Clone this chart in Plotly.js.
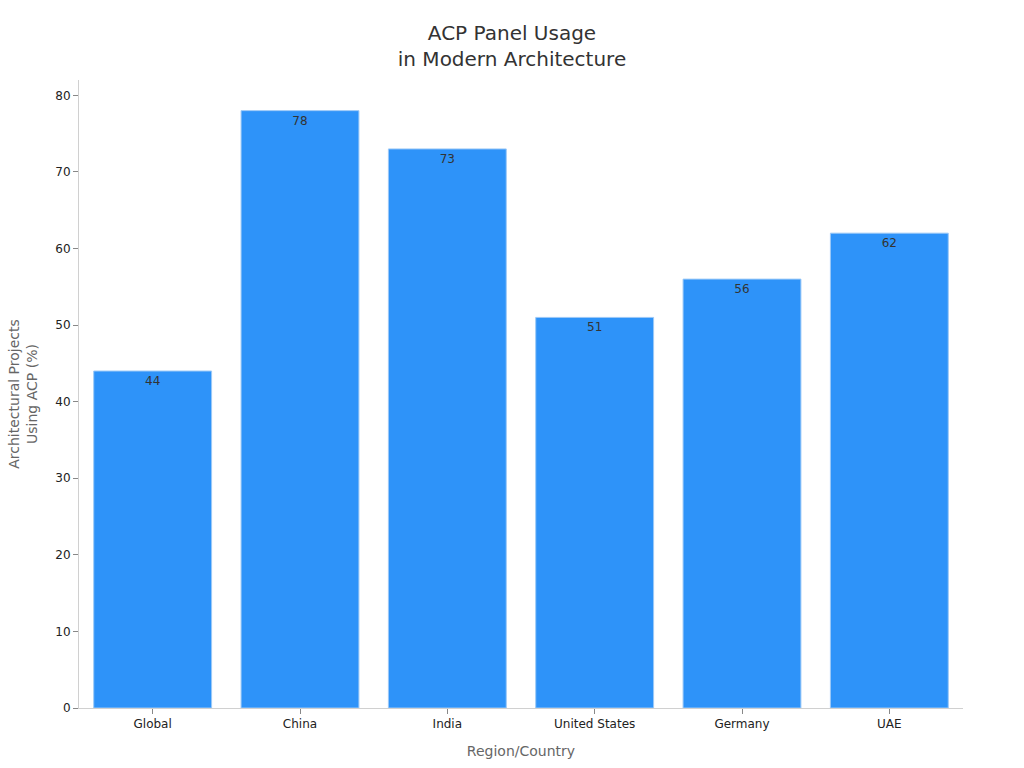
<!DOCTYPE html>
<html>
<head>
<meta charset="utf-8">
<script src="https://cdn.plot.ly/plotly-3.0.1.min.js"></script>
<style>html,body{margin:0;padding:0;background:#fff;}#chart{width:1024px;height:768px;}</style>
</head>
<body>
<div id="chart"></div>
<script>
const categories = ["Global", "China", "India", "United States", "Germany", "UAE"];
const usagePercent = [44, 78, 73, 51, 56, 62];
const yTickValues = [0, 10, 20, 30, 40, 50, 60, 70, 80];

const trace = {
  type: "bar",
  x: categories,
  y: usagePercent,
  text: usagePercent.map(String),
  textposition: "inside",
  insidetextanchor: "end",
  textfont: {family: "DejaVu Sans", size: 12, color: "#333333"},
  marker: {color: "#2E93F9", line: {color: "#9cc9f7", width: 1}},
  hoverinfo: "x+y"
};

const layout = {
  width: 1024, height: 768,
  margin: {l: 79, r: 61, t: 80, b: 60},
  paper_bgcolor: "#ffffff",
  plot_bgcolor: "#ffffff",
  font: {family: "DejaVu Sans", color: "#333333", size: 12},
  title: {text: "ACP Panel Usage<br>in Modern Architecture", x: 0.5, xanchor: "center", y: 0.9485, yanchor: "middle", font: {size: 20, color: "#333333"}},
  bargap: 0.2,
  showlegend: false,
  xaxis: {
    title: {text: "Region/Country", font: {size: 14, color: "#666666"}, standoff: 15},
    showline: true, linecolor: "#d0d0d0", linewidth: 1,
    ticks: "outside", ticklen: 5, tickcolor: "#888888",
    tickfont: {size: 12, color: "#222222"},
    showgrid: false, zeroline: false
  },
  yaxis: {
    title: {text: "Architectural Projects<br>Using ACP (%)", font: {size: 14, color: "#666666"}, standoff: 14},
    automargin: true,
    range: [0, 82],
    tickvals: yTickValues,
    showline: true, linecolor: "#d0d0d0", linewidth: 1,
    ticks: "outside", ticklen: 5, tickcolor: "#888888",
    tickfont: {size: 12, color: "#222222"},
    showgrid: false, zeroline: false
  }
};

Plotly.newPlot("chart", [trace], layout, {displayModeBar: false});
</script>
</body>
</html>
